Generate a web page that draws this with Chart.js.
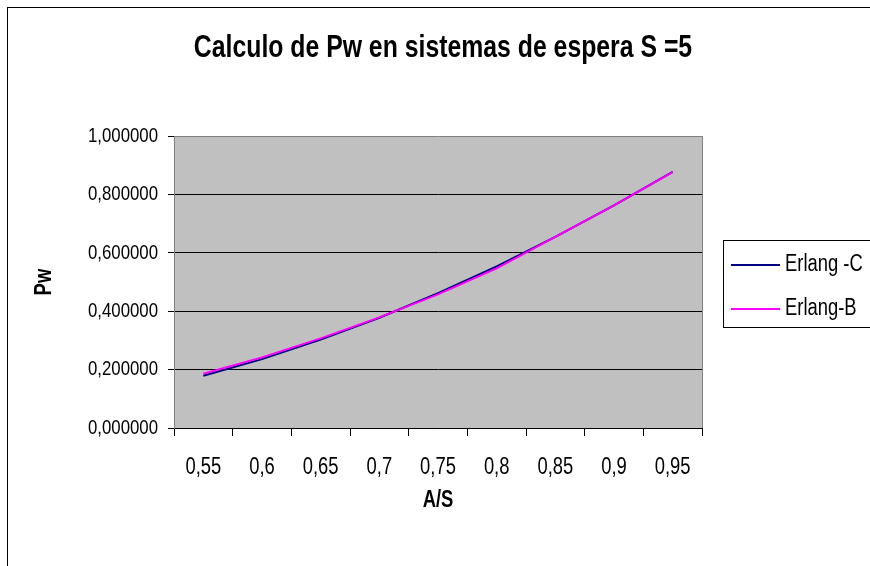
<!DOCTYPE html>
<html>
<head>
<meta charset="utf-8">
<script src="https://cdn.jsdelivr.net/npm/chart.js@4.4.0/dist/chart.umd.min.js"></script>
<style>
  html, body { margin: 0; padding: 0; background: #ffffff; overflow: hidden; }
  #wrap { width: 870px; height: 566px; position: relative; }
</style>
</head>
<body>
<div id="wrap"><canvas id="chart" width="870" height="566"></canvas></div>
<script>
// Probabilidad de espera Pw para S = 5 servidores, según A/S
const categories = ['0,55', '0,6', '0,65', '0,7', '0,75', '0,8', '0,85', '0,9', '0,95'];
const erlangC = [0.179, 0.236, 0.303, 0.378, 0.462, 0.554, 0.655, 0.763, 0.878];
const erlangB = [0.186, 0.242, 0.307, 0.379, 0.458, 0.547, 0.655, 0.763, 0.877];
const yTickLabels = ['0,000000', '0,200000', '0,400000', '0,600000', '0,800000', '1,000000'];
const seriesNames = ['Erlang -C', 'Erlang-B'];
const seriesColors = ['#000080', '#FF00FF'];

const FONT = "'Liberation Sans', Arial, sans-serif";
const TEXT_STRETCH = 0.8; // narrow lettering

const canvas = document.getElementById('chart');
const context = canvas.getContext('2d');

// Draw every label horizontally condensed around its anchor point
const plainFillText = context.fillText.bind(context);
context.fillText = function (text, x, y, maxWidth) {
  this.save();
  this.translate(x, y);
  this.scale(TEXT_STRETCH, 1);
  if (maxWidth === undefined) {
    plainFillText(text, 0, 0);
  } else {
    plainFillText(text, 0, 0, maxWidth / TEXT_STRETCH);
  }
  this.restore();
};

// Gray plot background and the outer chart frame
const plotBackground = {
  id: 'plotBackground',
  beforeDraw(chart) {
    const { ctx, chartArea: a } = chart;
    ctx.save();
    ctx.fillStyle = '#C0C0C0';
    ctx.fillRect(a.left, a.top, a.right - a.left, a.bottom - a.top);
    ctx.strokeStyle = '#000000';
    ctx.lineWidth = 1;
    ctx.strokeRect(7.5, 7.5, chart.width + 20, chart.height + 20);
    ctx.restore();
  }
};

// Plot border on the right side and the boxed legend
const plotFrameAndLegend = {
  id: 'plotFrameAndLegend',
  afterDraw(chart) {
    const { ctx, chartArea: a } = chart;
    ctx.save();
    ctx.strokeStyle = '#808080';
    ctx.lineWidth = 1;
    ctx.beginPath();
    ctx.moveTo(Math.round(a.right) + 0.5, a.top);
    ctx.lineTo(Math.round(a.right) + 0.5, a.bottom);
    ctx.stroke();

    const bx = 723.5, by = 240.5, bw = 200, bh = 87;
    ctx.fillStyle = '#ffffff';
    ctx.fillRect(bx, by, bw, bh);
    ctx.strokeStyle = '#000000';
    ctx.strokeRect(bx, by, bw, bh);
    const rows = [265, 309];
    ctx.font = '23px ' + FONT;
    ctx.textBaseline = 'middle';
    ctx.textAlign = 'left';
    chart.data.datasets.forEach((ds, i) => {
      ctx.strokeStyle = ds.borderColor;
      ctx.lineWidth = 2;
      ctx.beginPath();
      ctx.moveTo(731, rows[i]);
      ctx.lineTo(780, rows[i]);
      ctx.stroke();
      ctx.fillStyle = '#000000';
      ctx.fillText(ds.label, 785, rows[i]);
    });
    ctx.restore();
  }
};

new Chart(canvas, {
  type: 'line',
  data: {
    labels: categories,
    datasets: [
      { label: seriesNames[0], data: erlangC, borderColor: seriesColors[0], backgroundColor: seriesColors[0],
        borderWidth: 2, pointRadius: 0, tension: 0, order: 1 },
      { label: seriesNames[1], data: erlangB, borderColor: seriesColors[1], backgroundColor: seriesColors[1],
        borderWidth: 2, pointRadius: 0, tension: 0, order: 0 }
    ]
  },
  options: {
    responsive: false,
    animation: false,
    devicePixelRatio: 1,
    layout: { padding: { left: 16, right: 0, top: 0, bottom: 0 } },
    plugins: {
      legend: { display: false },
      tooltip: { enabled: false },
      title: {
        display: true,
        text: 'Calculo de Pw en sistemas de espera S =5',
        color: '#000000',
        font: { family: FONT, size: 31, weight: 'bold' },
        padding: { top: 30, bottom: 69 }
      }
    },
    scales: {
      x: {
        type: 'category',
        offset: true,
        afterFit(scale) { scale.height = 138; },
        grid: { offset: true, drawOnChartArea: false, drawTicks: true, tickLength: 8, tickColor: '#000000' },
        border: { display: true, color: '#000000', width: 1 },
        ticks: { color: '#000000', font: { family: FONT, size: 23 }, padding: 18, maxRotation: 0, autoSkip: false },
        title: { display: true, text: 'A/S', color: '#000000', font: { family: FONT, size: 23, weight: 'bold' },
                 padding: { top: 0, bottom: 52 } }
      },
      y: {
        min: 0,
        max: 1,
        afterFit(scale) { scale.width = 158; },
        grid: {
          color: (c) => (c.tick && c.tick.value === 1 ? '#808080' : '#000000'),
          lineWidth: 1,
          drawTicks: true,
          tickLength: 6,
          tickColor: '#000000'
        },
        border: { display: true, color: '#808080', width: 1 },
        ticks: {
          stepSize: 0.2,
          color: '#000000',
          font: { family: FONT, size: 21 },
          padding: 10,
          callback: (v, i) => yTickLabels[i]
        },
        title: { display: true, text: 'Pw', color: '#000000', font: { family: FONT, size: 23, weight: 'bold' },
                 padding: { top: 15, bottom: 0 } }
      },
      // empty strip on the right that holds the legend box
      legendSpace: {
        type: 'linear',
        position: 'right',
        display: true,
        afterFit(scale) { scale.width = 168; },
        grid: { display: false, drawOnChartArea: false },
        border: { display: false },
        ticks: { display: false }
      }
    }
  },
  plugins: [plotBackground, plotFrameAndLegend]
});
</script>
</body>
</html>
